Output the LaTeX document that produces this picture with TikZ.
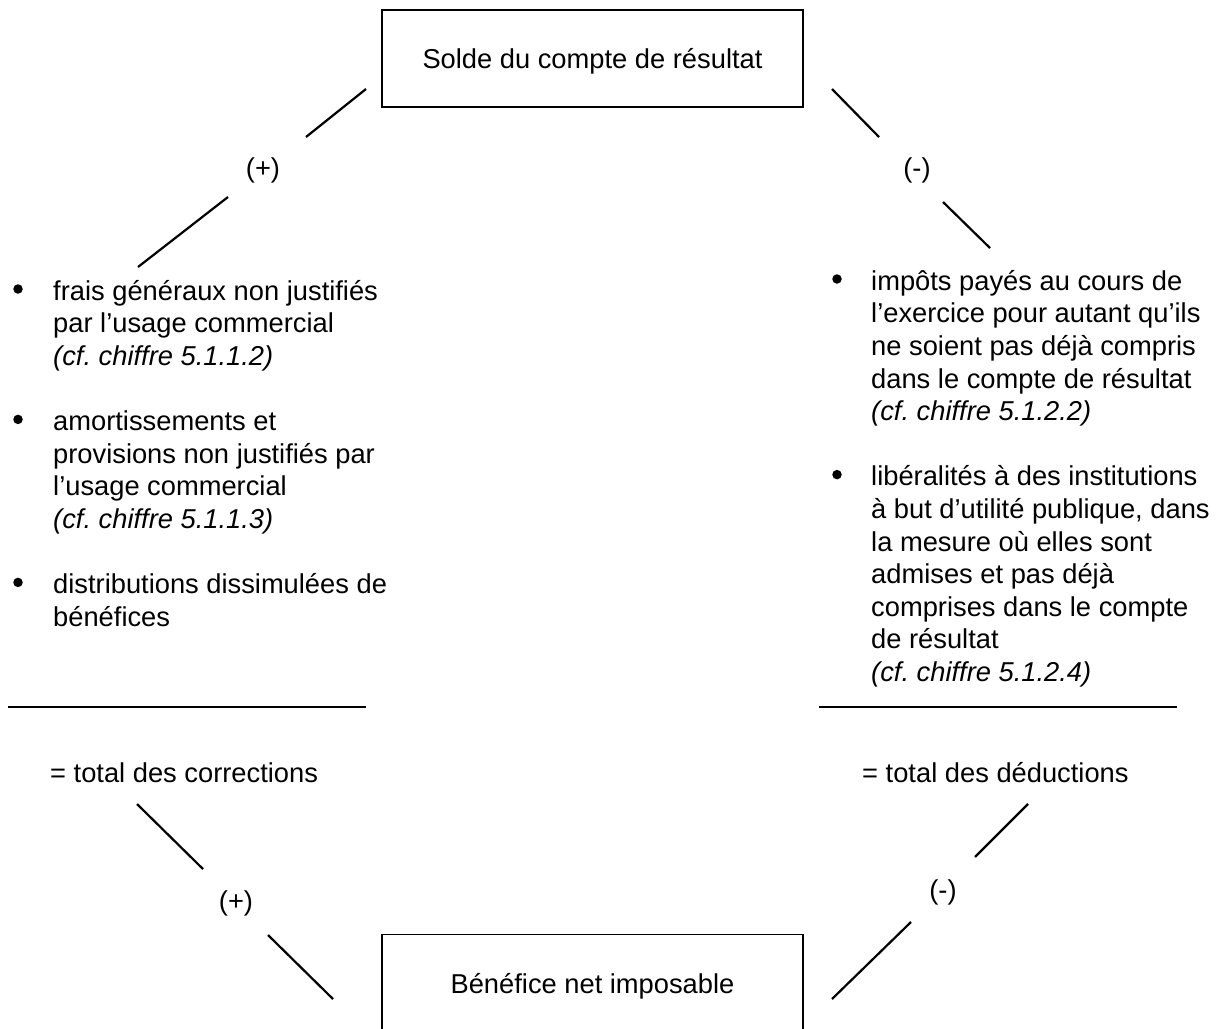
\documentclass[tikz,border=0pt]{standalone}
\usepackage{fontspec}
\setmainfont{Liberation Sans}
\frenchspacing
\begin{document}
\frenchspacing
\begin{tikzpicture}[x=1pt,y=-1pt,
  txt/.style={font=\fontsize{27.3pt}{32.6pt}\selectfont, inner sep=0pt},
  itemtext/.style={txt, anchor=north west, align=left},
  bul/.style={circle, fill=black, inner sep=0pt, minimum size=9.5pt},
  conn/.style={line width=2.2pt},
  boxed/.style={txt, draw, line width=1.4pt, minimum width=421pt},
  rulebar/.style={line width=1.7pt}]
\useasboundingbox (0,0) rectangle (1223,1028);
\clip (0,0) rectangle (1223,1028);
\fill[white] (0,0) rectangle (1223,1028);

% boxes
\node[boxed, minimum height=97pt, text height=20pt, text depth=1pt] (top) at (592.5,58.5) {Solde du compte de résultat};
\node[boxed, minimum height=126pt, anchor=north, text height=20pt, text depth=28pt] (bot) at (592.5,934) {Bénéfice net imposable};

% sign labels
\node[txt] (plusA) at (263,170) {(+)};
\node[txt] (minusA) at (917,170) {(-)};
\node[txt] (plusB) at (236,903) {(+)};
\node[txt] (minusB) at (943,892) {(-)};

% totals
\node[txt, anchor=west] (totC) at (50,773) {= total des corrections};
\node[txt, anchor=west] (totD) at (862,773) {= total des déductions};

% left list
\newcommand{\firstline}{\rule{0pt}{27pt}}
\node[bul] (bl1) at (18,289) {};
\node[itemtext] (l1) at (53,273) {\firstline frais généraux non justifiés\\par l’usage commercial\\\textit{(cf.\ chiffre 5.1.1.2)}};
\node[bul] (bl2) at (18,419.4) {};
\node[itemtext] (l2) at (53,403.4) {\firstline amortissements et\\provisions non justifiés par\\l’usage commercial\\\textit{(cf.\ chiffre 5.1.1.3)}};
\node[bul] (bl3) at (18,582.4) {};
\node[itemtext] (l3) at (53,566.4) {\firstline distributions dissimulées de\\bénéfices};

% right list
\node[bul] (br1) at (837,279) {};
\node[itemtext] (r1) at (871,263) {\firstline impôts payés au cours de\\l’exercice pour autant qu’ils\\ne soient pas déjà compris\\dans le compte de résultat\\\textit{(cf.\ chiffre 5.1.2.2)}};
\node[bul] (br2) at (837,474.6) {};
\node[itemtext] (r2) at (871,458.6) {\firstline libéralités à des institutions\\à but d’utilité publique, dans\\la mesure où elles sont\\admises et pas déjà\\comprises dans le compte\\de résultat\\\textit{(cf.\ chiffre 5.1.2.4)}};

% connector end points
\coordinate (c1a) at (366,89);  \coordinate (c1b) at (306,137);
\coordinate (c2a) at (228,197); \coordinate (c2b) at (138,267);
\coordinate (c3a) at (832,89);  \coordinate (c3b) at (879,137);
\coordinate (c4a) at (943,202); \coordinate (c4b) at (990,248);
\coordinate (c5a) at (137,804); \coordinate (c5b) at (203,869);
\coordinate (c6a) at (268,935); \coordinate (c6b) at (333,999);
\coordinate (c7a) at (1028,804); \coordinate (c7b) at (975,857);
\coordinate (c8a) at (911,922); \coordinate (c8b) at (832,999);
\coordinate (ruleLa) at (8,707);   \coordinate (ruleLb) at (366,707);
\coordinate (ruleRa) at (819,707); \coordinate (ruleRb) at (1177,707);

\draw[conn] (c1a) -- (c1b);
\draw[conn] (c2a) -- (c2b);
\draw[conn] (c3a) -- (c3b);
\draw[conn] (c4a) -- (c4b);
\draw[conn] (c5a) -- (c5b);
\draw[conn] (c6a) -- (c6b);
\draw[conn] (c7a) -- (c7b);
\draw[conn] (c8a) -- (c8b);
\draw[rulebar] (ruleLa) -- (ruleLb);
\draw[rulebar] (ruleRa) -- (ruleRb);
\end{tikzpicture}
\end{document}
